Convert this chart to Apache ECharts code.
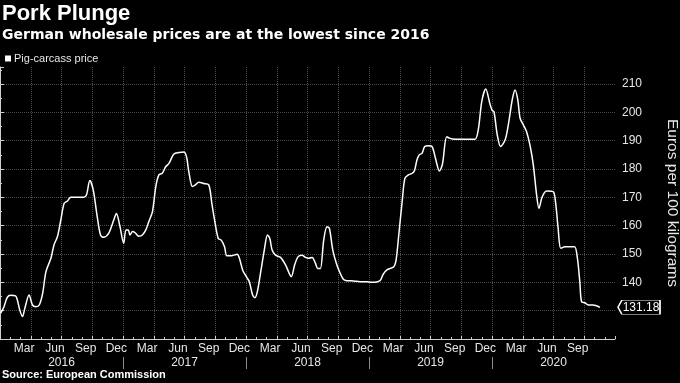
<!DOCTYPE html>
<html>
<head>
<meta charset="utf-8">
<script src="https://cdn.jsdelivr.net/npm/echarts@6/dist/echarts.min.js"></script>
<style>
html,body{margin:0;padding:0;background:#000;}
#chart{width:680px;height:383px;}
</style>
</head>
<body>
<div id="chart"></div>
<script>
// ---- data ----
const dates = [
"2016-01-03","2016-01-13","2016-01-23","2016-02-02","2016-02-16","2016-02-21","2016-02-28","2016-03-07","2016-03-14","2016-03-27",
"2016-04-06","2016-04-16","2016-04-26","2016-05-06","2016-05-16","2016-05-31","2016-06-09","2016-06-19","2016-06-29","2016-07-09",
"2016-07-19","2016-07-29","2016-08-17","2016-09-06","2016-09-14","2016-09-24","2016-10-04","2016-10-16","2016-10-26","2016-11-04",
"2016-11-19","2016-12-04","2016-12-12","2016-12-22","2017-01-03","2017-01-10","2017-01-17","2017-01-22","2017-01-30","2017-02-06",
"2017-02-16","2017-02-26","2017-03-08","2017-03-17","2017-03-28","2017-04-07","2017-04-16","2017-04-26","2017-05-06","2017-05-16",
"2017-05-31","2017-06-15","2017-06-30","2017-07-08","2017-07-14","2017-07-25","2017-08-03","2017-08-13","2017-08-28","2017-09-12",
"2017-09-21","2017-09-29","2017-10-10","2017-10-19","2017-10-29","2017-11-05","2017-11-20","2017-12-05","2017-12-12","2017-12-22",
"2018-01-01","2018-01-11","2018-01-21","2018-01-28","2018-02-04","2018-02-14","2018-02-23","2018-03-04","2018-03-11","2018-03-18",
"2018-03-28","2018-04-12","2018-04-27","2018-05-14","2018-05-24","2018-06-03","2018-06-15","2018-06-25","2018-07-05","2018-07-15",
"2018-07-25","2018-08-01","2018-08-09","2018-08-19","2018-08-29","2018-09-05","2018-09-15","2018-09-27","2018-10-07","2018-10-17",
"2018-10-27","2018-11-16","2018-12-05","2018-12-25","2019-01-09","2019-02-03","2019-02-12","2019-02-22","2019-03-14","2019-03-21",
"2019-03-29","2019-04-08","2019-04-16","2019-04-26","2019-05-08","2019-05-15","2019-05-22","2019-05-29","2019-06-06","2019-06-14",
"2019-06-26","2019-07-06","2019-07-16","2019-07-28","2019-08-06","2019-08-19","2019-08-29","2019-09-13","2019-10-13","2019-11-11",
"2019-11-21","2019-12-01","2019-12-13","2019-12-26","2020-01-01","2020-01-07","2020-01-17","2020-01-27","2020-02-09","2020-02-18",
"2020-03-01","2020-03-09","2020-03-17","2020-03-24","2020-04-03","2020-04-12","2020-04-22","2020-05-02","2020-05-12","2020-05-19",
"2020-05-29","2020-06-11","2020-06-30","2020-07-07","2020-07-15","2020-07-23","2020-08-05","2020-08-22","2020-09-03","2020-09-11",
"2020-09-18","2020-09-23","2020-10-03","2020-10-13","2020-10-27","2020-11-17"
];
const prices = [
129.1,131.4,134.7,135.4,135.2,133.8,130.2,127.9,130.8,135.5,
132.0,131.4,132.0,136.1,143.8,148.5,153.2,156.1,162.0,167.9,
168.7,170.0,170.0,170.0,170.8,175.9,172.6,163.2,156.7,155.9,
157.3,162.0,164.3,160.2,153.8,158.5,158.5,156.7,157.9,157.5,
156.3,156.7,158.5,161.4,164.9,173.8,177.9,178.5,180.8,182.0,
185.3,185.8,186.0,183.8,179.1,173.8,174.4,175.3,174.9,174.4,
167.9,162.0,155.5,154.9,152.6,149.4,149.4,149.9,148.5,144.3,
142.2,140.2,135.5,134.6,136.7,144.3,151.4,156.7,155.5,151.4,
149.6,148.8,146.1,142.0,146.1,149.0,149.6,148.8,148.5,148.8,
146.7,144.9,144.9,154.9,159.6,159.1,151.4,146.1,143.2,141.0,
140.6,140.5,140.2,140.2,140.0,140.6,142.9,144.4,145.5,147.9,
156.7,168.5,176.7,177.9,178.5,179.6,183.2,185.0,185.5,187.9,
188.2,187.9,183.8,179.3,181.6,191.4,190.8,190.5,190.5,190.5,
194.0,203.8,208.2,202.9,200.8,200.2,192.0,187.9,190.2,195.5,
204.9,207.9,204.4,197.9,195.5,193.2,188.5,181.4,170.8,166.1,
170.2,172.2,172.0,168.5,159.1,152.0,152.6,152.6,152.6,148.5,
140.2,133.2,132.8,132.0,132.0,131.18
];
const seriesName = "Pig-carcass price";
const monthNames = ["Jan","Feb","Mar","Apr","May","Jun","Jul","Aug","Sep","Oct","Nov","Dec"];
const monthTickLabels = ["Mar","Jun","Sep","Dec"];
const yearLabels = ["2016","2017","2018","2019","2020"];
const yTicks = {min:120, max:216, step:10};
const lastValue = prices[prices.length - 1];

// ---- helpers ----
const startYear = Number(yearLabels[0]);
function monthIndex(s){
  const p = s.split("-").map(Number);
  const dim = new Date(p[0], p[1], 0).getDate();
  return (p[0]-startYear)*12 + (p[1]-1) + (p[2]-1)/dim;
}
const nMonths = yearLabels.length*12;
const monthCats = [];
for(let i=0;i<nMonths;i++) monthCats.push(monthNames[i%12]);
const seriesData = dates.map((d,i)=>[monthIndex(d), prices[i]]);
const innerYears = yearLabels.length - 2;

const FONT = "Liberation Sans";
const txt = "#e6e6e6";
const axisCol = "#cfcfcf";
const gridLine = {color:"#4a4a4a", type:"dotted", width:1};
const tagW = 42, tagH = 14, tagGap = 3;

const chart = echarts.init(document.getElementById("chart"), null, {renderer:"canvas"});
chart.setOption({
  backgroundColor:"#000",
  animation:false,
  title:[
    {text:"Pork Plunge", left:2, top:3, padding:0,
     textStyle:{color:"#fff", fontSize:22, fontWeight:"bold", fontFamily:FONT}},
    {text:"German wholesale prices are at the lowest since 2016", left:2, top:28, padding:0,
     textStyle:{color:"#fff", fontSize:14, fontWeight:"bold", fontFamily:"DejaVu Sans"}},
    {text:"Source: European Commission", left:2, top:369, padding:0,
     textStyle:{color:"#fff", fontSize:11, fontWeight:"bold", fontFamily:FONT}}
  ],
  legend:{
    left:5, top:53, padding:0, icon:"rect", itemWidth:6, itemHeight:6, itemGap:5,
    data:[seriesName],
    textStyle:{color:txt, fontSize:11, fontFamily:FONT, padding:[0,0,0,-2]}
  },
  grid:[
    {left:0, right:65, top:67, bottom:44, outerBoundsMode:"none", containLabel:false},
    {left:123, right:188, top:67, bottom:26, outerBoundsMode:"none", containLabel:false}
  ],
  xAxis:[
    {type:"value", gridIndex:0, min:0, max:nMonths, interval:3,
     axisLine:{show:true, lineStyle:{color:axisCol, width:1}},
     axisTick:{show:true, inside:true, length:3, lineStyle:{color:axisCol}},
     minorTick:{show:true, splitNumber:3, length:2, lineStyle:{color:axisCol}},
     axisLabel:{show:false},
     splitLine:{show:true, showMinLine:false, showMaxLine:false, lineStyle:gridLine}},
    {type:"category", gridIndex:0, position:"bottom", data:monthCats, boundaryGap:true,
     axisLine:{show:false}, axisTick:{show:false}, splitLine:{show:false},
     axisLabel:{interval:function(i,v){return monthTickLabels.indexOf(v)>=0 && i<nMonths-1;},
       color:txt, fontSize:12, fontFamily:FONT, margin:4, padding:[0,3,0,0]}},
    {type:"category", gridIndex:0, position:"bottom", offset:14, data:yearLabels, boundaryGap:true,
     axisLine:{show:false}, axisTick:{show:false}, splitLine:{show:false},
     axisLabel:{interval:0, color:txt, fontSize:12, fontFamily:FONT, margin:4}},
    {type:"value", gridIndex:1, position:"bottom", min:0, max:innerYears, interval:1,
     axisLine:{show:false}, axisLabel:{show:false}, splitLine:{show:false},
     axisTick:{show:true, length:12, lineStyle:{color:"#8a8a8a"}}}
  ],
  yAxis:[
    {type:"value", gridIndex:0, position:"right", offset:tagGap,
     min:yTicks.min, max:yTicks.max, interval:yTicks.step,
     name:"Euros per 100 kilograms", nameLocation:"middle", nameRotate:-90, nameGap:46,
     nameTextStyle:{color:txt, fontSize:15.5, fontFamily:FONT},
     axisLine:{show:true, lineStyle:{color:axisCol}},
     axisTick:{show:true, length:4, lineStyle:{color:axisCol}},
     minorTick:{show:true, splitNumber:2, length:2, lineStyle:{color:axisCol}},
     axisLabel:{showMinLabel:false, showMaxLabel:false, color:txt, fontSize:12, fontFamily:FONT, margin:4},
     splitLine:{show:true, showMinLine:false, showMaxLine:false, lineStyle:gridLine}},
    {type:"value", gridIndex:1, show:false, min:0, max:1}
  ],
  series:[{
    name:seriesName, type:"line", xAxisIndex:0, yAxisIndex:0,
    data:seriesData, showSymbol:false, smooth:0.3,
    lineStyle:{color:"#fff", width:1.5}, itemStyle:{color:"#fff"},
    markPoint:{
      silent:true,
      symbol:"path://M0,7 L4,0 L44,0 L44,14 L4,14 Z",
      symbolSize:[tagW, tagH], symbolKeepAspect:false,
      symbolOffset:[tagW/2 + tagGap, 0],
      itemStyle:{color:"#000", borderColor:"#fff", borderWidth:1},
      label:{show:true, position:"inside", offset:[2,0],
        formatter:function(){return lastValue.toFixed(2);},
        color:"#fff", fontSize:12, fontFamily:FONT},
      data:[{coord:[nMonths, lastValue], value:lastValue}]
    }
  }]
});
</script>
</body>
</html>
